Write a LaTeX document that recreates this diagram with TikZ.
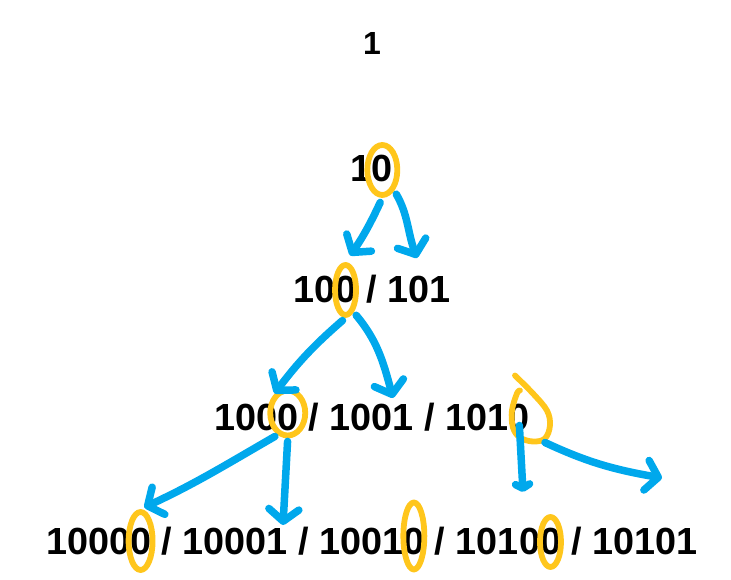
\documentclass[tikz,border=0pt]{standalone}
\usepackage{fontspec}
\setmainfont{Liberation Sans}
\usetikzlibrary{arrows.meta,shapes.geometric,calc}
\definecolor{penblue}{RGB}{0,168,236}
\definecolor{markgold}{RGB}{255,198,28}

\begin{document}
\begin{tikzpicture}
    [x=1pt, y=1pt,
    row/.style={inner sep=0pt, anchor=base, font=\fontsize{37.8}{44}\selectfont\bfseries},
    goldline/.style={draw=markgold, line width=5.8pt, line cap=round, line join=round},
    ring/.style={goldline, ellipse, inner sep=0pt},
    pen/.style={draw=penblue, line width=7.5pt, line cap=round, line join=round,
        -{Straight Barb[length=12pt,width=30pt,round]}},
    blob/.style={pen, -{Straight Barb[length=4pt,width=14pt,round]}}
    ]
    \useasboundingbox (0,0) rectangle (731,580);

    % digit and gap widths of the row font
    \def\dg{21.02}
    \def\gp{10.51}

    % rows
    \node[row, font=\fontsize{32}{36}\selectfont\bfseries] (r0) at (372,525) {1};
    \node[row] (r1) at (372,398) {10};
    \node[row] (r2) at (372,277) {100 / 101};
    \node[row] (r3) at (372,149) {1000 / 1001 / 1010};
    \node[row] (r4) at (372,25) {10000 / 10001 / 10010 / 10100 / 10101};

    % circled zeros
    \node[ring, minimum width=30, minimum height=50] (z10) at ($(r1.base west)+(1.5*\dg,12)$) {};
    \node[ring, minimum width=21, minimum height=50] (z100) at ($(r2.base west)+(2.5*\dg,13)$) {};
    \node[ring, minimum width=35, minimum height=45] (z1000) at ($(r3.base west)+(3.5*\dg,18)$) {};
    \coordinate (z1010) at ($(r3.base west)+(11.5*\dg+6*\gp,13.5)$);
    \draw[goldline, shift={(z1010)}] plot[smooth, tension=0.6] coordinates
        {(-4,42) (14,24) (28,7) (31,-8) (26,-21) (14,-24) (1,-20) (-6,-10) (-7,7) (-2,24) (1,27)};
    \node[ring, minimum width=24, minimum height=58] (z10000) at ($(r4.base west)+(4.5*\dg,14)$) {};
    \node[ring, minimum width=21, minimum height=67] (z10010) at ($(r4.base west)+(14.5*\dg+6*\gp,19)$) {};
    \node[ring, minimum width=21, minimum height=50] (z10100) at ($(r4.base west)+(19.5*\dg+9*\gp,13)$) {};

    % free arrow ends
    \coordinate (t101) at (417,322);
    \coordinate (t1001) at (393,182);
    \coordinate (t10001) at (283,55);
    \coordinate (t10100) at (523,88);
    \coordinate (t10101) at (662,102);
    \coordinate (l1010) at ($(z1010)+(26,-25)$);

    % arrows
    \draw[pen, shorten <=5pt, shorten >=8pt] (z10.south) to[bend left=5] (z100.north);
    \draw[pen, shorten <=4pt] (z10.-60) to[out=-60, in=110] (t101);
    \draw[pen, shorten <=4pt, shorten >=2pt] (z100.south) to[bend right=6] (z1000.north west);
    \draw[pen, shorten <=4pt] (z100.-70) to[out=-50, in=105] (t1001);
    \draw[pen, shorten <=3pt, shorten >=4pt] (z1000.-115) to[out=-150, in=25] (z10000.north);
    \draw[pen, shorten <=3pt] (z1000.-90) -- (t10001);
    \draw[blob, shorten <=8pt] (z1010) -- (t10100);
    \draw[pen] (l1010) to[out=-25, in=170] (t10101);
\end{tikzpicture}
\end{document}
